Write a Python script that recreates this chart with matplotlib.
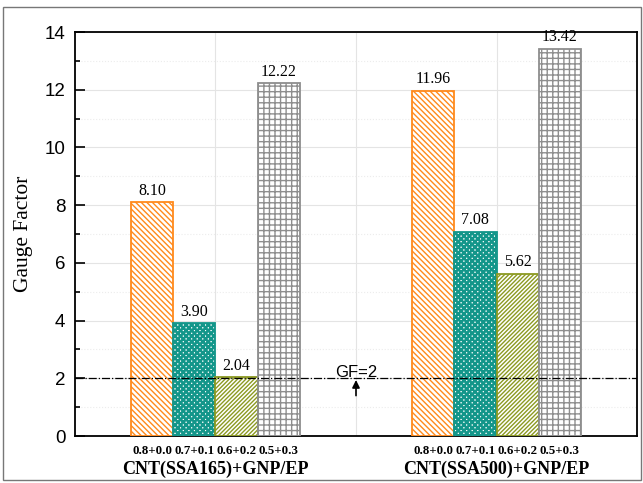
import matplotlib.pyplot as plt
import matplotlib.patches as mpatches
import matplotlib.transforms as mtransforms
import numpy as np

# data
groups = ['CNT(SSA165)+GNP/EP', 'CNT(SSA500)+GNP/EP']
ratios = ['0.8+0.0', '0.7+0.1', '0.6+0.2', '0.5+0.3']
gf_ssa165 = [8.10, 3.90, 2.04, 12.22]
gf_ssa500 = [11.96, 7.08, 5.62, 13.42]
gf_ref = 2

colors = ['#ff8a1c', '#13968a', '#8c9a22', '#8e8e8e']
hatches = ['\\' * 6, 'x' * 6, '/' * 8, '+++']
hatch_lw = [1.0, 1.8, 1.0, 1.0]

fig = plt.figure(figsize=(6.43, 4.83), dpi=100)
ax = fig.add_axes([0.1166, 0.0973, 0.8741, 0.8364])

# outer frame round the figure
fig.patches.append(mpatches.Rectangle((3 / 643, 3 / 483), 638 / 643, 473 / 483,
                                      transform=fig.transFigure, fill=False,
                                      edgecolor='#777777', linewidth=1.0))

centers = np.array([1, 3])
width = 0.3
offsets = (np.arange(4) - 1.5) * width
values = np.array([gf_ssa165, gf_ssa500])

ax.set_axisbelow(True)
trans = mtransforms.blended_transform_factory(ax.transData, ax.transAxes)

for i in range(4):
    xs = centers + offsets[i]
    bars = ax.bar(xs, values[:, i], width, facecolor='white', edgecolor=colors[i],
                  hatch=hatches[i], linewidth=1.3, zorder=3)
    for b in bars:
        try:
            b.set_hatch_linewidth(hatch_lw[i])
        except AttributeError:
            pass
    for b, v in zip(bars, values[:, i]):
        ax.text(b.get_x() + width / 2, v + 0.12, f'{v:.2f}', ha='center', va='bottom',
                family='Liberation Serif', fontsize=11.5, zorder=5)
    for x in xs:
        ax.text(x, -0.022, ratios[i], transform=trans, ha='center', va='top',
                family='Liberation Serif', fontweight='bold', fontsize=9.3)

for c, g in zip(centers, groups):
    ax.text(c, -0.06, g, transform=trans, ha='center', va='top',
            family='Liberation Serif', fontweight='bold', fontsize=13)

# GF=2 reference line
ax.axhline(gf_ref, color='black', linestyle='-.', linewidth=0.9, zorder=4)
ax.annotate('', xy=(2.0, gf_ref - 0.06), xytext=(2.0, gf_ref - 0.6),
            arrowprops=dict(arrowstyle='-|>', color='black', lw=1.2, mutation_scale=11,
                            shrinkA=0, shrinkB=0))
ax.text(2.0, gf_ref - 0.05, 'GF=2', ha='center', va='bottom', family='Liberation Sans',
        fontsize=12, zorder=5)

ax.set_xlim(0, 4)
ax.set_ylim(0, 14)
ax.set_xticks([1, 2, 3])
ax.set_xticklabels([])
ax.tick_params(axis='x', length=0)
ax.set_yticks(np.arange(0, 15, 2))
ax.set_yticks(np.arange(1, 14, 2), minor=True)
ax.tick_params(axis='y', which='major', direction='in', length=7, width=1.2,
               labelsize=13.5, pad=7)
ax.tick_params(axis='y', which='minor', direction='in', length=3.5, width=1.2)
for lab in ax.get_yticklabels():
    lab.set_family('Liberation Sans')

ax.grid(True, which='major', color='#e4e4e4', linewidth=0.8)
ax.grid(True, which='minor', axis='y', color='#ececec', linewidth=0.8, linestyle=':')

for s in ax.spines.values():
    s.set_linewidth(1.3)

ax.set_ylabel('Gauge Factor', family='Liberation Serif', fontsize=15.5, labelpad=8)

fig.savefig('out.png', dpi=100)
